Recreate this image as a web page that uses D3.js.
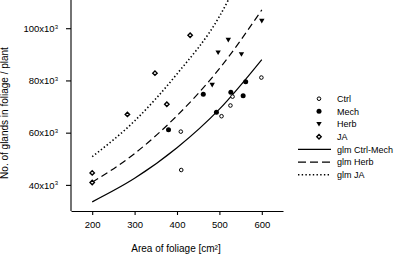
<!DOCTYPE html>
<html>
<head>
<meta charset="utf-8">
<script src="https://cdn.jsdelivr.net/npm/d3@7"></script>
<style>
  body { margin: 0; background: #fff; }
  text { font-family: "Liberation Sans", Arial, sans-serif; fill: #000; }
</style>
</head>
<body>
<div id="svganchor"></div>
<script>
let width = 397;
let height = 256;

// data: [area cm², glands x10^3]
let ctrl = [[409, 60.4], [410, 45.7], [505, 66.3], [526, 70.4], [531, 73.8], [599, 81.1]];
let mech = [[380, 61.1], [462, 74.7], [493, 67.8], [527, 75.5], [556, 74.1], [562, 79.5]];
let herb = [[483, 78.3], [497, 90.7], [521, 95.5], [552, 90.0], [600, 102.8]];
let ja = [[200, 44.6], [200, 40.9], [283, 67.0], [348, 82.8], [376, 70.9], [431, 97.3]];

// fitted curves, read at a few x positions
let glmCtrlMech = [[200, 33.5], [300, 42.5], [400, 54.2], [500, 69.0], [600, 88.0]];
let glmHerb = [[200, 41.0], [300, 52.0], [400, 66.5], [500, 84.5], [600, 107.0]];
let glmJA = [[200, 50.8], [300, 64.5], [400, 82.5], [500, 104.5], [525, 112.0]];

let xTicks = [200, 300, 400, 500, 600];
let yTicks = [40, 60, 80, 100];

let svg = d3.select("#svganchor").append("svg").attr("width", width).attr("height", height);

let xScale = d3.scaleLinear().domain([150, 650]).range([71, 283]);
let yScale = d3.scaleLinear().domain([30, 110]).range([211, 2.1]);

svg.append("defs").append("clipPath").attr("id", "plotclip")
  .append("rect").attr("x", 71).attr("y", 0).attr("width", 212).attr("height", 211);

// axes
let xAxis = d3.axisBottom(xScale).tickValues(xTicks).tickSize(4).tickSizeOuter(0).tickPadding(6);
let gx = svg.append("g").attr("transform", "translate(0,211)").call(xAxis);

let yAxis = d3.axisLeft(yScale).tickValues(yTicks).tickSize(5).tickSizeOuter(0).tickPadding(8).tickFormat("");
let gy = svg.append("g").attr("transform", "translate(71,0)").call(yAxis);
gy.select(".domain").attr("d", "M0,211V0");

gx.selectAll("text").style("font-size", "9.5px").style("font-family", "Liberation Sans, Arial, sans-serif");
svg.selectAll(".domain, .tick line").attr("stroke", "#000").attr("stroke-width", 1.1);

// y tick labels with superscript
gy.selectAll(".tick").each(function (d) {
  let t = d3.select(this).append("text")
    .attr("x", -13).attr("dy", "0.35em").attr("text-anchor", "end")
    .style("font-size", "9.5px").style("font-family", "Liberation Sans, Arial, sans-serif")
    .attr("fill", "#000");
  t.append("tspan").text(d + "x10");
  t.append("tspan").attr("dy", "-3.5").style("font-size", "6px").text("3");
});

// axis titles
svg.append("text")
  .attr("transform", "translate(8,113) rotate(-90)")
  .attr("text-anchor", "middle")
  .style("font-size", "10px")
  .text("No. of glands in foliage / plant");

svg.append("text")
  .attr("x", 176).attr("y", 252)
  .attr("text-anchor", "middle")
  .style("font-size", "10px")
  .text("Area of foliage [cm²]");

// curves
let line = d3.line()
  .x(function (d) { return xScale(d[0]); })
  .y(function (d) { return yScale(d[1]); })
  .curve(d3.curveMonotoneX);

let plot = svg.append("g").attr("clip-path", "url(#plotclip)");

let curves = [
  { name: "glm Ctrl-Mech", data: glmCtrlMech, dash: null, width: 1.2 },
  { name: "glm Herb", data: glmHerb, dash: "7,4", width: 1.2 },
  { name: "glm JA", data: glmJA, dash: "1.4,2.3", width: 1.6 }
];

curves.forEach(function (c) {
  plot.append("path")
    .attr("d", line(c.data))
    .attr("fill", "none")
    .attr("stroke", "#000")
    .attr("stroke-width", c.width)
    .attr("stroke-dasharray", c.dash);
});

// markers
function drawMarker(g, kind) {
  if (kind === "ctrl") {
    g.append("circle").attr("r", 1.8).attr("fill", "#fff").attr("stroke", "#000").attr("stroke-width", 1);
  } else if (kind === "mech") {
    g.append("circle").attr("r", 2.5).attr("fill", "#000");
  } else if (kind === "herb") {
    g.append("path").attr("d", "M-2.7,-2.1L2.7,-2.1L0,2.5Z").attr("fill", "#000");
  } else {
    g.append("path").attr("d", "M0,-2.2L2.2,0L0,2.2L-2.2,0Z")
      .attr("fill", "#fff").attr("stroke", "#000").attr("stroke-width", 1.4);
  }
}

let series = [
  { name: "Ctrl", kind: "ctrl", data: ctrl },
  { name: "Mech", kind: "mech", data: mech },
  { name: "Herb", kind: "herb", data: herb },
  { name: "JA", kind: "ja", data: ja }
];

series.forEach(function (s) {
  plot.selectAll(".pt-" + s.kind)
    .data(s.data)
    .enter()
    .append("g")
    .attr("class", "pt-" + s.kind)
    .attr("transform", function (d) {
      return "translate(" + xScale(d[0]) + "," + yScale(d[1]) + ")";
    })
    .each(function () { drawMarker(d3.select(this), s.kind); });
});

// legend
let legendY = d3.scaleLinear().domain([0, 6]).range([98.7, 174.7]);
let legend = svg.append("g");

series.forEach(function (s, i) {
  let g = legend.append("g").attr("transform", "translate(319," + legendY(i) + ")");
  drawMarker(g, s.kind);
  legend.append("text").attr("x", 337).attr("y", legendY(i)).attr("dy", "0.35em")
    .style("font-size", "9px").text(s.name);
});

curves.forEach(function (c, i) {
  let y = legendY(i + 4);
  legend.append("line")
    .attr("x1", 298).attr("x2", 331).attr("y1", y).attr("y2", y)
    .attr("stroke", "#000").attr("stroke-width", c.width)
    .attr("stroke-dasharray", c.dash === "7,4" ? "8,4" : c.dash);
  legend.append("text").attr("x", 337).attr("y", y).attr("dy", "0.35em")
    .style("font-size", "9px").text(c.name);
});
</script>
</body>
</html>
